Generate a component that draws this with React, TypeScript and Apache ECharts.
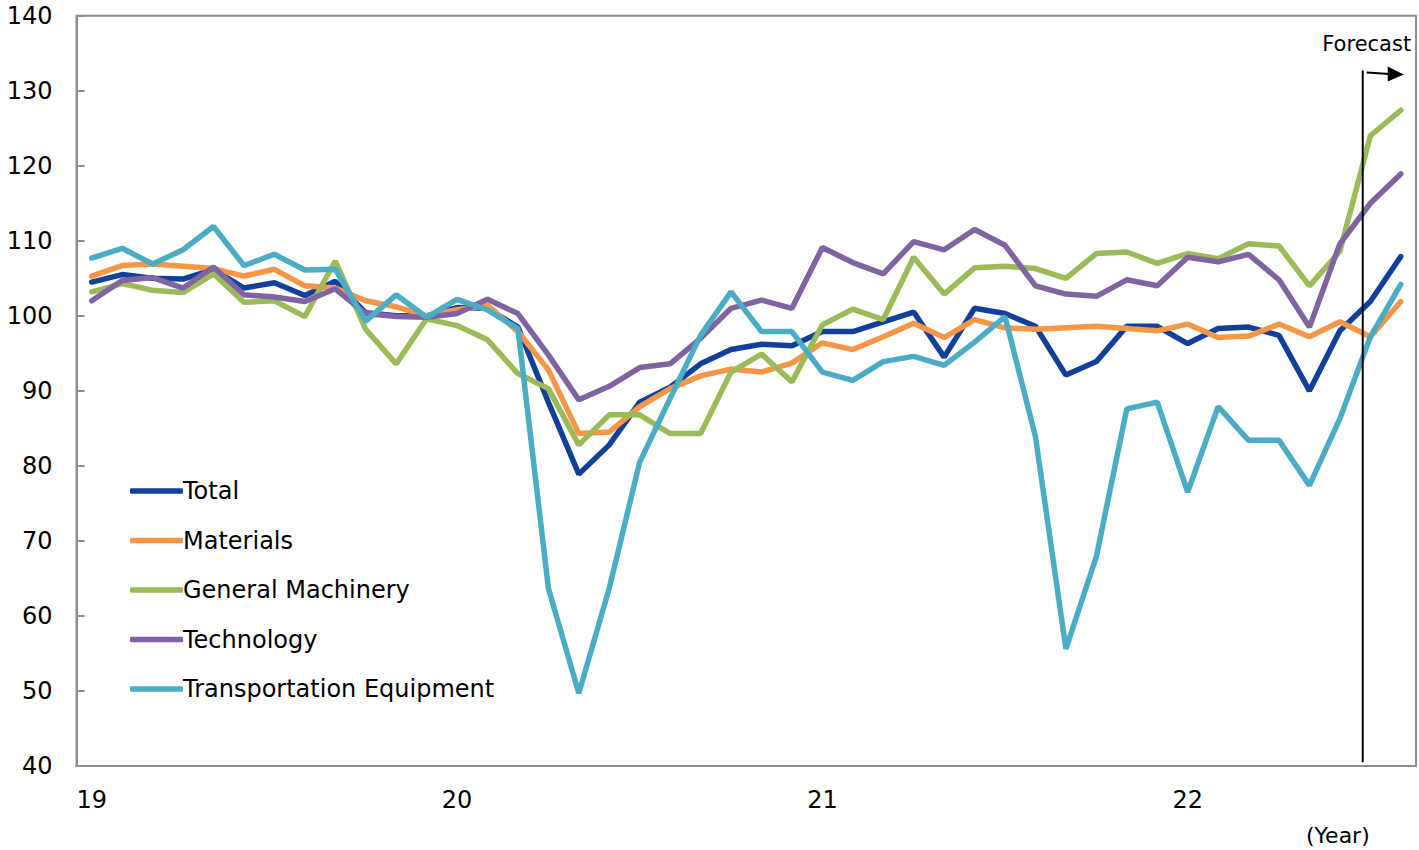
import React, { useEffect, useRef } from "react";
import * as echarts from "echarts";

// Monthly index values, Jan 2019 – Aug 2022 (last months are forecasts)
const yearLabels = ["19", "20", "21", "22"];
const months: string[] = [];
for (let y = 2019; y <= 2022; y++) {
  for (let m = 1; m <= 12; m++) {
    if (y === 2022 && m > 8) break;
    months.push(`${y}-${String(m).padStart(2, "0")}`);
  }
}

const total = [
  104.5, 105.5, 105.0, 104.9, 106.2, 103.7, 104.4, 102.7, 104.6, 100.4, 100.0, 100.0,
  101.1, 101.0, 98.5, 88.5, 78.9, 82.8, 88.5, 90.5, 93.6, 95.5, 96.2, 96.0,
  97.9, 97.9, 99.2, 100.5, 94.5, 101.0, 100.3, 98.6, 92.1, 93.9, 98.6, 98.6,
  96.3, 98.3, 98.5, 97.4, 90.0, 98.0, 101.9, 107.9,
];
const materials = [
  105.3, 106.7, 106.9, 106.6, 106.3, 105.3, 106.2, 104.0, 103.7, 102.0, 101.2, 100.0,
  100.8, 101.4, 97.9, 92.8, 84.3, 84.5, 87.9, 90.3, 92.0, 92.9, 92.5, 93.7,
  96.4, 95.5, 97.2, 99.0, 97.1, 99.5, 98.4, 98.2, 98.4, 98.6, 98.3, 98.0,
  98.9, 97.1, 97.3, 98.9, 97.2, 99.2, 97.2, 101.9,
];
const generalMachinery = [
  103.2, 104.3, 103.4, 103.1, 105.6, 101.8, 102.0, 99.9, 107.3, 98.2, 93.6, 99.6,
  98.7, 96.8, 92.3, 90.3, 82.8, 86.8, 86.8, 84.3, 84.3, 92.5, 94.9, 91.2,
  98.8, 100.9, 99.5, 107.8, 102.9, 106.4, 106.6, 106.3, 105.0, 108.3, 108.5, 107.0,
  108.3, 107.6, 109.6, 109.3, 104.0, 108.6, 124.0, 127.4,
];
const technology = [
  102.0, 104.7, 105.1, 103.7, 106.5, 102.8, 102.5, 101.9, 103.6, 100.3, 99.9, 99.8,
  100.3, 102.2, 100.3, 94.8, 88.8, 90.6, 93.1, 93.6, 97.0, 101.0, 102.1, 101.0,
  109.1, 107.1, 105.6, 109.9, 108.8, 111.5, 109.4, 104.0, 102.9, 102.6, 104.8, 104.0,
  107.8, 107.2, 108.2, 104.8, 98.5, 109.6, 115.0, 118.9,
];
const transportation = [
  107.7, 109.0, 106.9, 108.8, 111.9, 106.7, 108.2, 106.1, 106.2, 99.3, 102.8, 99.8,
  102.2, 100.8, 98.3, 63.7, 49.7, 63.7, 80.5, 89.0, 97.4, 103.2, 97.9, 97.9,
  92.5, 91.4, 93.9, 94.6, 93.4, 96.5, 99.9, 83.9, 55.6, 67.9, 87.6, 88.5,
  76.5, 87.9, 83.4, 83.4, 77.4, 86.3, 97.2, 104.2,
];

const seriesNames = [
  "Total",
  "Materials",
  "General Machinery",
  "Technology",
  "Transportation Equipment",
];
const seriesData = [total, materials, generalMachinery, technology, transportation];
const seriesColors = ["#11409a", "#f79646", "#9bbb59", "#8064a2", "#4bacc6"];

// Forecast marker: position on the month scale and vertical extent
const forecastStart = 42.25;
const forecastTop = 132.7;
const forecastBottom = 40.5;
const forecastArrowValue = 132.3;

const FONT = "'DejaVu Sans', Verdana, sans-serif";
const AXIS_GREY = "#8e8e8e";
const LINE_WIDTH = 5.5;

export default function App() {
  const ref = useRef<HTMLDivElement>(null);

  useEffect(() => {
    if (!ref.current) return;
    const chart = echarts.init(ref.current, null, { renderer: "svg" });

    chart.setOption({
      animation: false,
      backgroundColor: "#ffffff",
      textStyle: { fontFamily: FONT, color: "#000" },
      grid: {
        left: 76.5,
        right: 0,
        top: 15.7,
        bottom: 84,
        show: true,
        borderColor: AXIS_GREY,
        borderWidth: 2,
        containLabel: false,
      },
      legend: {
        orient: "vertical",
        left: 125,
        top: 473,
        icon: "roundRect",
        itemWidth: 53,
        itemHeight: LINE_WIDTH,
        itemGap: 23.5,
        textStyle: { fontSize: 24, lineHeight: 26, fontFamily: FONT, color: "#000", padding: [0, 0, 0, -5] },
        data: seriesNames,
      },
      xAxis: [
        {
          type: "category",
          data: months,
          boundaryGap: true,
          axisLine: { lineStyle: { color: AXIS_GREY, width: 2 } },
          axisTick: {
            inside: true,
            length: 9,
            interval: (index: number) => index % 12 === 0,
            lineStyle: { color: AXIS_GREY, width: 2 },
          },
          axisLabel: { show: false },
          splitLine: { show: false },
        },
        {
          type: "value",
          position: "bottom",
          min: 0,
          max: months.length,
          interval: 12,
          axisLine: { show: false },
          axisTick: { show: false },
          splitLine: { show: false },
          axisLabel: {
            fontSize: 24,
            fontFamily: FONT,
            color: "#000",
            align: "left",
            margin: 22,
            formatter: (v: number) =>
              v % 12 === 0 && v / 12 < yearLabels.length ? yearLabels[v / 12] : "",
          },
        },
      ],
      yAxis: {
        type: "value",
        min: 40,
        max: 140,
        interval: 10,
        axisLine: { show: true, lineStyle: { color: AXIS_GREY, width: 2 } },
        axisTick: { show: true, inside: true, length: 8, lineStyle: { color: AXIS_GREY, width: 2 } },
        splitLine: { show: false },
        axisLabel: { fontSize: 24, fontFamily: FONT, color: "#000", margin: 24 },
      },
      series: seriesNames.map((name, i) => ({
        name,
        type: "line",
        xAxisIndex: 0,
        yAxisIndex: 0,
        data: seriesData[i],
        showSymbol: false,
        symbol: "none",
        itemStyle: { color: seriesColors[i] },
        lineStyle: { width: LINE_WIDTH, color: seriesColors[i], cap: "round" },
        emphasis: { disabled: true },
      })),
    });

    // Forecast divider and arrow, placed through the chart's own scales
    const xF = chart.convertToPixel({ xAxisIndex: 1 }, forecastStart) as number;
    const yTop = chart.convertToPixel({ yAxisIndex: 0 }, forecastTop) as number;
    const yBot = chart.convertToPixel({ yAxisIndex: 0 }, forecastBottom) as number;
    const yArr = chart.convertToPixel({ yAxisIndex: 0 }, forecastArrowValue) as number;

    chart.setOption({
      graphic: [
        {
          type: "line",
          shape: { x1: xF, y1: yTop, x2: xF, y2: yBot },
          style: { stroke: "#000", lineWidth: 2 },
          z: 100,
        },
        {
          type: "line",
          shape: { x1: xF + 4, y1: yArr - 1, x2: xF + 27, y2: yArr + 0.5 },
          style: { stroke: "#000", lineWidth: 2 },
          z: 100,
        },
        {
          type: "polygon",
          shape: {
            points: [
              [xF + 25, yArr - 7],
              [xF + 41, yArr + 1],
              [xF + 25, yArr + 8],
            ],
          },
          style: { fill: "#000" },
          z: 100,
        },
        {
          type: "text",
          x: xF + 4,
          y: yTop - 26,
          style: {
            text: "Forecast",
            font: `21px ${FONT}`,
            fill: "#000",
            align: "center",
            verticalAlign: "middle",
          },
          z: 100,
        },
        {
          type: "text",
          x: 1306,
          y: 835,
          style: {
            text: "(Year)",
            font: `22px ${FONT}`,
            fill: "#000",
            align: "left",
            verticalAlign: "middle",
          },
          z: 100,
        },
      ],
    });

    return () => chart.dispose();
  }, []);

  return (
    <div
      ref={ref}
      style={{ position: "absolute", left: 0, top: 0, width: 1419, height: 850 }}
    />
  );
}
